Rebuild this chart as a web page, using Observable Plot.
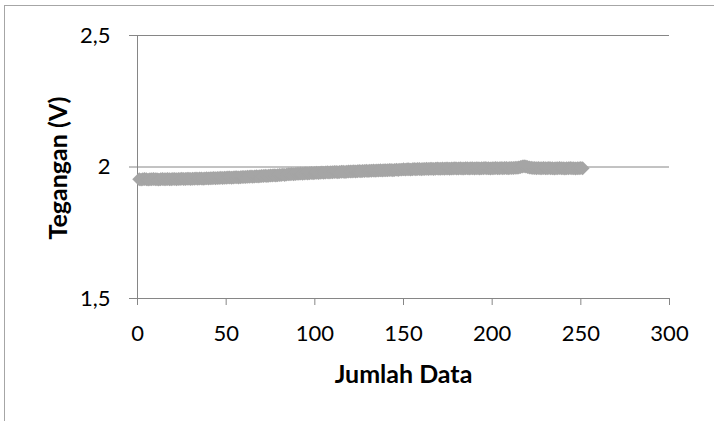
<!DOCTYPE html>
<html><head><meta charset="utf-8">
<script src="https://cdn.jsdelivr.net/npm/d3@7"></script>
<script src="https://cdn.jsdelivr.net/npm/@observablehq/plot@0.6"></script>
<style>
html,body{margin:0;padding:0;background:#fff;}
#wrap{position:relative;width:714px;height:421px;overflow:hidden;}
#frame{position:absolute;left:4px;top:5px;width:760px;height:500px;border:1.5px solid #a6a6a6;box-sizing:border-box;}
#chart{position:absolute;left:0;top:0;}
</style></head><body><div id="wrap"><div id="frame"></div><div id="chart"></div></div>
<script>
// Tegangan (V) per data point (points 1..251)
const voltage = [
1.953,1.952,1.953,1.954,1.953,1.952,1.953,1.953,1.954,1.953,
1.953,1.952,1.953,1.954,1.953,1.953,1.954,1.953,1.953,1.954,
1.954,1.953,1.954,1.954,1.955,1.954,1.954,1.955,1.955,1.954,
1.955,1.955,1.956,1.955,1.956,1.956,1.955,1.956,1.957,1.956,
1.957,1.957,1.958,1.957,1.958,1.958,1.959,1.958,1.959,1.959,
1.960,1.960,1.959,1.960,1.961,1.961,1.960,1.961,1.962,1.962,
1.962,1.963,1.963,1.964,1.963,1.964,1.965,1.964,1.965,1.966,
1.966,1.967,1.966,1.967,1.968,1.968,1.969,1.968,1.969,1.970,
1.970,1.971,1.970,1.971,1.972,1.972,1.973,1.972,1.973,1.974,
1.974,1.975,1.974,1.975,1.976,1.975,1.976,1.977,1.976,1.977,
1.978,1.977,1.978,1.979,1.978,1.979,1.980,1.979,1.980,1.980,
1.981,1.981,1.980,1.981,1.982,1.982,1.981,1.982,1.983,1.983,
1.983,1.984,1.983,1.984,1.985,1.984,1.985,1.985,1.986,1.985,
1.986,1.986,1.987,1.986,1.987,1.987,1.988,1.987,1.988,1.988,
1.988,1.989,1.989,1.988,1.989,1.990,1.989,1.990,1.990,1.991,
1.990,1.991,1.991,1.990,1.991,1.992,1.991,1.992,1.992,1.991,
1.992,1.992,1.993,1.992,1.993,1.993,1.992,1.993,1.994,1.993,
1.993,1.994,1.993,1.994,1.994,1.993,1.994,1.994,1.995,1.994,
1.994,1.995,1.994,1.994,1.995,1.995,1.994,1.995,1.995,1.994,
1.995,1.995,1.994,1.995,1.995,1.996,1.995,1.995,1.994,1.995,
1.995,1.996,1.995,1.995,1.996,1.995,1.996,1.996,1.995,1.996,
1.996,1.996,1.997,1.997,1.998,2.000,2.002,2.003,2.002,2.000,
1.998,1.997,1.996,1.996,1.995,1.996,1.995,1.995,1.996,1.995,
1.995,1.996,1.995,1.995,1.994,1.995,1.995,1.996,1.995,1.995,
1.994,1.995,1.995,1.996,1.995,1.995,1.994,1.995,1.995,1.996,1.995
];
const xTicks = [0, 50, 100, 150, 200, 250, 300];
const yTicks = [1.5, 2, 2.5];
const gridY = [2, 2.5];
const xTitle = "Jumlah Data";
const yTitle = "Tegangan (V)";

const data = voltage.map((v, i) => ({n: i + 1, v}));
const axisColor = "#868686";
const font = "Lato, 'Open Sans', sans-serif";

const chart = Plot.plot({
  width: 714, height: 421,
  marginLeft: 137, marginRight: 45, marginTop: 35, marginBottom: 123,
  style: {fontFamily: font, background: "transparent", color: "#000"},
  x: {domain: [0, 300]},
  y: {domain: [1.5, 2.5]},
  marks: [
    Plot.ruleY(gridY, {stroke: axisColor, strokeWidth: 1}),
    Plot.ruleX([0], {stroke: axisColor, strokeWidth: 1}),
    Plot.ruleY([1.5], {stroke: axisColor, strokeWidth: 1}),
    Plot.axisX({ticks: xTicks, tickSize: 7, tickPadding: 20, fontSize: 22, stroke: axisColor, fill: "#000", label: null, tickFormat: d => String(d)}),
    Plot.axisY({ticks: yTicks, tickSize: 8, tickPadding: 19, fontSize: 22, stroke: axisColor, fill: "#000", label: null, tickFormat: d => String(d).replace(".", ",")}),
    Plot.dot(data, {x: "n", y: "v", symbol: "diamond2", r: 6.3, fill: "#a5a5a5", stroke: "none"}),
    Plot.text([xTitle], {text: d => d, frameAnchor: "bottom", textAnchor: "middle", lineAnchor: "middle", dy: 76, fontSize: 25, fontWeight: "bold", fill: "#000"}),
    Plot.text([yTitle], {text: d => d, frameAnchor: "left", textAnchor: "middle", lineAnchor: "middle", dx: -78.5, dy: 1, rotate: -90, fontSize: 25, fontWeight: "bold", fill: "#000"})
  ]
});
document.getElementById("chart").appendChild(chart);
</script>
</body></html>
